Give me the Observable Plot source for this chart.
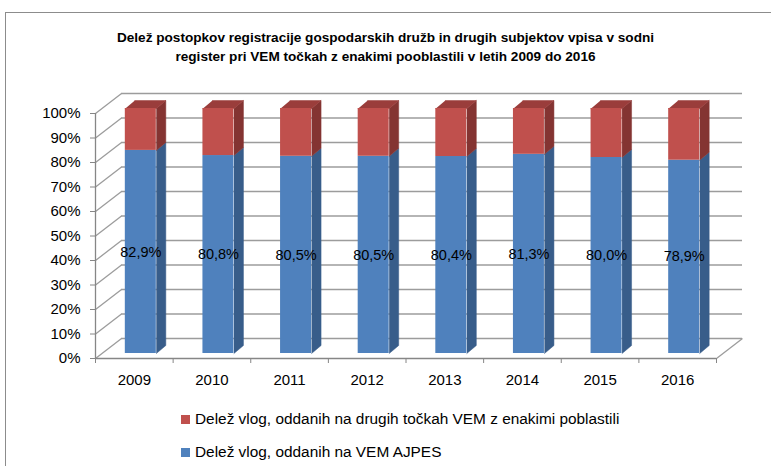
<!DOCTYPE html>
<html><head><meta charset="utf-8">
<script src="https://cdn.jsdelivr.net/npm/d3@7"></script>
<script src="https://cdn.jsdelivr.net/npm/@observablehq/plot@0.6"></script>
<style>
body{margin:0;background:#fff;}
#wrap{position:relative;width:771px;height:466px;overflow:hidden;background:#fff;font-family:"Liberation Sans",Arial,sans-serif;color:#000;}
#frame{position:absolute;left:5px;top:12px;width:820px;height:520px;border-left:1.5px solid #8c8c8c;border-top:1.5px solid #8c8c8c;}
#title{position:absolute;left:0;width:771px;top:28px;text-align:center;font-weight:bold;font-size:13.6px;line-height:19px;}
#chart{position:absolute;left:0;top:80px;}
.leg{position:absolute;left:181px;font-size:15.4px;line-height:16px;white-space:nowrap;}
.sw{display:inline-block;width:9px;height:9px;margin-right:5px;vertical-align:0px;}
</style></head>
<body>
<div id="wrap">
  <div id="frame"></div>
  <div id="title">Delež postopkov registracije gospodarskih družb in drugih subjektov vpisa v sodni<br>register pri VEM točkah z enakimi pooblastili v letih 2009 do 2016</div>
  <div id="chart"></div>
  <div class="leg" id="leg1" style="top:411px"></div>
  <div class="leg" id="leg2" style="top:444px"></div>
</div>
<script>
const years = ["2009","2010","2011","2012","2013","2014","2015","2016"];
const ajpes = [82.9, 80.8, 80.5, 80.5, 80.4, 81.3, 80.0, 78.9];
const other = [17.1, 19.2, 19.5, 19.5, 19.6, 18.7, 20.0, 21.1];
const seriesNames = ["Delež vlog, oddanih na drugih točkah VEM z enakimi poblastili", "Delež vlog, oddanih na VEM AJPES"];
const yTicks = [0, 10, 20, 30, 40, 50, 60, 70, 80, 90, 100];

const colors = {
  blue: {front: "#4F81BD", side: "#385D8A", top: "#4572A7"},
  red:  {front: "#C0504D", side: "#843432", top: "#9A3D3B"}
};
const gridColor = "#9c9c9c", axisColor = "#868686";

// layout
const W = 771, H = 310, mL = 95, mR = 55, mT = 33, mB = 32;
const PX = (W - mL - mR) / years.length;   // px per category
const PY = (H - mT - mB) / 100;            // px per percent
const ux = p => p / PX, uy = p => p / PY;
const wall = {dx: ux(26), dy: uy(20)};
const front = {dx: ux(6.5), dy: uy(5)};
const depth = {dx: ux(9.5), dy: uy(8)};
const halfW = ux(15.5);

// segments
const segs = [];
years.forEach((yr, i) => {
  const cx = i + 0.5 + front.dx;
  segs.push({i, yr, lo: 0, hi: ajpes[i], c: colors.blue, xl: cx - halfW, xr: cx + halfW, top: false});
  segs.push({i, yr, lo: ajpes[i], hi: ajpes[i] + other[i], c: colors.red, xl: cx - halfW, xr: cx + halfW, top: true});
});
const polys = [];
segs.forEach((s, k) => {
  const y0 = s.lo + front.dy, y1 = s.hi + front.dy;
  [[s.xr, y0], [s.xr + depth.dx, y0 + depth.dy], [s.xr + depth.dx, y1 + depth.dy], [s.xr, y1]]
    .forEach(([x, y]) => polys.push({id: "s" + k, x, y, color: s.c.side}));
  if (s.top) {
    [[s.xl, y1], [s.xr, y1], [s.xr + depth.dx, y1 + depth.dy], [s.xl + depth.dx, y1 + depth.dy]]
      .forEach(([x, y]) => polys.push({id: "t" + k, x, y, color: s.c.top}));
  }
});

const plot = Plot.plot({
  width: W, height: H,
  marginLeft: mL, marginRight: mR, marginTop: mT, marginBottom: mB,
  x: {domain: [0, years.length]},
  y: {domain: [0, 100]},
  color: {type: "identity"},
  style: {fontFamily: '"Liberation Sans", Arial, sans-serif', fontSize: "15px", color: "#000", background: "transparent", overflow: "visible"},
  marks: [
    // back wall gridlines
    Plot.ruleY(yTicks, {y: d => d + wall.dy, x1: wall.dx, x2: years.length + wall.dx, stroke: gridColor, strokeWidth: 1.3}),
    // left wall diagonals
    Plot.link(yTicks, {x1: 0, y1: d => d, x2: wall.dx, y2: d => d + wall.dy, stroke: gridColor, strokeWidth: 1.3}),
    // floor right edge
    Plot.link([0], {x1: years.length, y1: 0, x2: years.length + wall.dx, y2: wall.dy, stroke: gridColor, strokeWidth: 1.3}),
    // floor front edge & y axis line
    Plot.ruleY([0], {x1: 0, x2: years.length, stroke: axisColor, strokeWidth: 1.3}),
    Plot.ruleX([0], {y1: 0, y2: 100, stroke: axisColor, strokeWidth: 1.3}),
    Plot.axisY({ticks: yTicks, tickSize: 5, tickPadding: 10, tickFormat: d => d + "%", stroke: axisColor, fill: "#000", fontSize: 15, label: null}),
    Plot.axisX({ticks: d3.range(years.length + 1), tickSize: 5, tickFormat: () => "", stroke: axisColor, label: null}),
    // bar side & top faces
    Plot.line(polys, {x: "x", y: "y", z: "id", fill: "color", stroke: "color", strokeWidth: 0.5}),
    // bar front faces
    Plot.rect(segs, {x1: "xl", x2: "xr", y1: d => d.lo + front.dy, y2: d => d.hi + front.dy, fill: d => d.c.front}),
    // value labels
    Plot.text(ajpes, {x: (d, i) => i + 0.5 + front.dx, y: d => d / 2 + front.dy, text: d => d.toFixed(1).replace(".", ",") + "%", fontSize: 14.5, fill: "#000"}),
    // category labels
    Plot.text(years, {x: (d, i) => i + 0.5, y: 0, dy: 22, text: d => d, fontSize: 15, fill: "#000"})
  ]
});
document.getElementById("chart").appendChild(plot);

document.getElementById("leg1").innerHTML = `<span class="sw" style="background:${colors.red.front}"></span>${seriesNames[0]}`;
document.getElementById("leg2").innerHTML = `<span class="sw" style="background:${colors.blue.front}"></span>${seriesNames[1]}`;
</script>
</body></html>
